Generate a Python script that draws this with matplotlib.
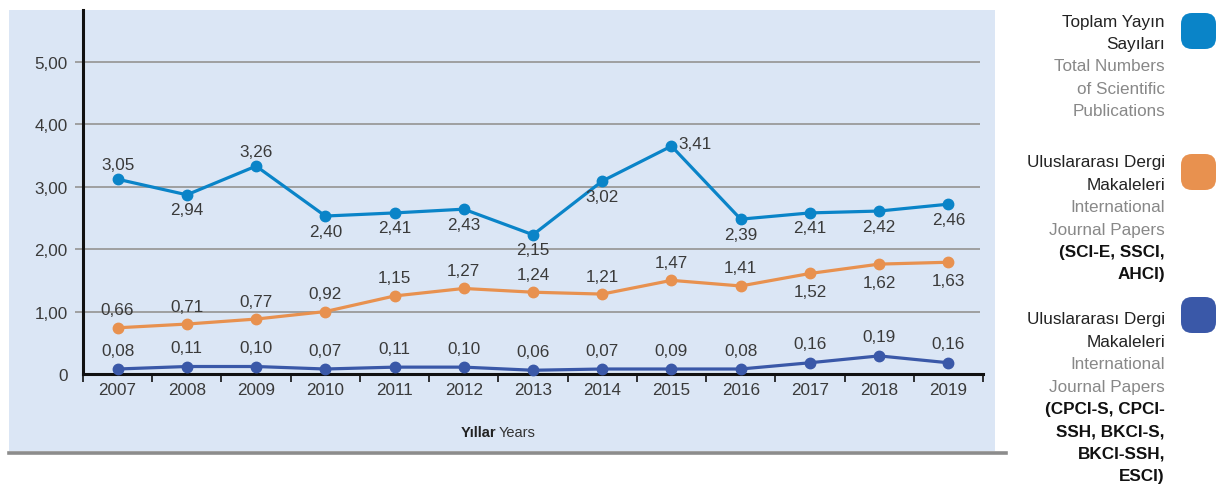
import matplotlib
matplotlib.use("Agg")
import matplotlib.pyplot as plt
from matplotlib.patches import Rectangle, FancyBboxPatch
from matplotlib.lines import Line2D

# ---- data ----
years = ["2007", "2008", "2009", "2010", "2011", "2012", "2013",
         "2014", "2015", "2016", "2017", "2018", "2019"]

total_vals = [3.12, 2.87, 3.33, 2.53, 2.58, 2.64, 2.23, 3.09, 3.65, 2.48, 2.58, 2.61, 2.72]
total_labels = ["3,05", "2,94", "3,26", "2,40", "2,41", "2,43", "2,15",
                "3,02", "3,41", "2,39", "2,41", "2,42", "2,46"]
total_pos = ["above", "below", "above", "below", "below", "below", "below",
             "below", "right", "below", "below", "below", "below"]

sci_vals = [0.74, 0.80, 0.88, 1.00, 1.25, 1.37, 1.31, 1.28, 1.50, 1.41, 1.61, 1.76, 1.79]
sci_labels = ["0,66", "0,71", "0,77", "0,92", "1,15", "1,27", "1,24",
              "1,21", "1,47", "1,41", "1,52", "1,62", "1,63"]
sci_pos = ["above"] * 10 + ["below"] * 3

cpci_vals = [0.08, 0.12, 0.12, 0.08, 0.11, 0.11, 0.06, 0.08, 0.08, 0.08, 0.18, 0.29, 0.18]
cpci_labels = ["0,08", "0,11", "0,10", "0,07", "0,11", "0,10", "0,06",
               "0,07", "0,09", "0,08", "0,16", "0,19", "0,16"]
cpci_pos = ["above"] * 13

yticks = [0, 1, 2, 3, 4, 5]
ytick_labels = ["0", "1,00", "2,00", "3,00", "4,00", "5,00"]

legend_entries = [
    (["Toplam Yayın", "Sayıları"], ["Total Numbers", "of Scientific", "Publications"], []),
    (["Uluslararası Dergi", "Makaleleri"], ["International", "Journal Papers"],
     ["(SCI-E, SSCI,", "AHCI)"]),
    (["Uluslararası Dergi", "Makaleleri"], ["International", "Journal Papers"],
     ["(CPCI-S, CPCI-", "SSH, BKCI-S,", "BKCI-SSH,", "ESCI)"]),
]

# ---- style ----
FONT = "Liberation Sans"
plt.rcParams["font.family"] = [FONT, "DejaVu Sans"]
C_TOTAL = "#0a84c8"
C_SCI = "#e8914f"
C_CPCI = "#3a58a8"
BG = "#dbe6f5"
TXT = "#3a3a3a"
FS = 12.3

W, H = 1217, 485
fig = plt.figure(figsize=(W / 100, H / 100), dpi=100)

def fx(px):
    return px / W

def fy(py):
    return 1 - py / H

# panel background
fig.patches.append(Rectangle((fx(9), fy(452)), fx(995) - fx(9), fy(11) - fy(452),
                             transform=fig.transFigure, facecolor=BG, edgecolor="none", zorder=-5))
# bottom gray border
fig.lines.append(Line2D([fx(9), fx(1006)], [fy(453.5), fy(453.5)], transform=fig.transFigure,
                        color="#8c8c8c", lw=2.6, zorder=-4))

ax = fig.add_axes([fx(83), fy(375), fx(983) - fx(83), fy(11) - fy(375)])
ax.set_zorder(2)
ax.set_facecolor("none")
x = list(range(len(years)))
ax.set_xlim(-0.5, len(years) - 0.5)
ax.set_ylim(0, 5.83)

for spine in ["top", "right"]:
    ax.spines[spine].set_visible(False)
ax.spines["left"].set_color("#111111")
ax.spines["left"].set_linewidth(2.2)
ax.spines["bottom"].set_color("#111111")
ax.spines["bottom"].set_linewidth(2.2)

# gridlines (extend slightly left of the axis as tick marks)
for yv in yticks[1:]:
    ax.plot([-0.5 - 8 / 69.1, len(years) - 0.5 - 3 / 69.1], [yv, yv], color="#9a9a9a", lw=1.3,
            clip_on=False, zorder=1, solid_capstyle="butt")

ax.set_yticks(yticks)
ax.set_yticklabels(ytick_labels, fontsize=FS, color=TXT)
ax.tick_params(axis="y", length=0, pad=11)

ax.set_xticks(x)
ax.set_xticklabels(years, fontsize=FS, color=TXT)
ax.tick_params(axis="x", which="major", length=0, pad=6)
ax.set_xticks([i - 0.5 for i in range(len(years) + 1)], minor=True)
ax.tick_params(axis="x", which="minor", length=6, width=1.2, color="#111111", direction="out")

series = [
    (total_vals, total_labels, total_pos, C_TOTAL, 15),
    (sci_vals, sci_labels, sci_pos, C_SCI, 18),
    (cpci_vals, cpci_labels, cpci_pos, C_CPCI, 19),
]
for vals, labels, pos, col, off in series:
    ax.plot(x, vals, color=col, lw=2.3, marker="o", markersize=7.5, zorder=3, clip_on=False)
    for xi, v, lab, p in zip(x, vals, labels, pos):
        if p == "above":
            dx, dy, ha = 0, off, "center"
        elif p == "below":
            dx, dy, ha = 0, -off, "center"
        else:
            dx, dy, ha = 7, 3, "left"
        ax.annotate(lab, (xi, v), xytext=(dx * 0.72, dy * 0.72), textcoords="offset points",
                    ha=ha, va="center", fontsize=FS, color=TXT, zorder=4)

# x axis title
fig.text(fx(496), fy(433), "Yıllar", ha="right", va="center", fontsize=10.5,
         fontweight="bold", color="#222222")
fig.text(fx(499), fy(433), "Years", ha="left", va="center", fontsize=10.5, color="#333333")

# legend
sq_tops = [14, 155, 298]
text_tops = [22, 163, 320]
line_h = 22.4
colors = [C_TOTAL, C_SCI, C_CPCI]
for (tr, en, bold), st, tt, col in zip(legend_entries, sq_tops, text_tops, colors):
    fig.patches.append(FancyBboxPatch((fx(1181), fy(st + 36)), fx(35), fy(0) - fy(36),
                                      boxstyle="round,pad=0,rounding_size=0.009",
                                      transform=fig.transFigure, facecolor=col,
                                      edgecolor="none", mutation_aspect=W / H))
    yline = tt
    for t in tr:
        fig.text(fx(1165), fy(yline), t, ha="right", va="center", fontsize=12.3, color="#222222")
        yline += line_h
    for t in en:
        fig.text(fx(1165), fy(yline), t, ha="right", va="center", fontsize=12.3, color="#888888")
        yline += line_h
    for t in bold:
        fig.text(fx(1165), fy(yline), t, ha="right", va="center", fontsize=12.3,
                 fontweight="bold", color="#111111")
        yline += line_h

fig.savefig("out.png", dpi=100, facecolor="white")
